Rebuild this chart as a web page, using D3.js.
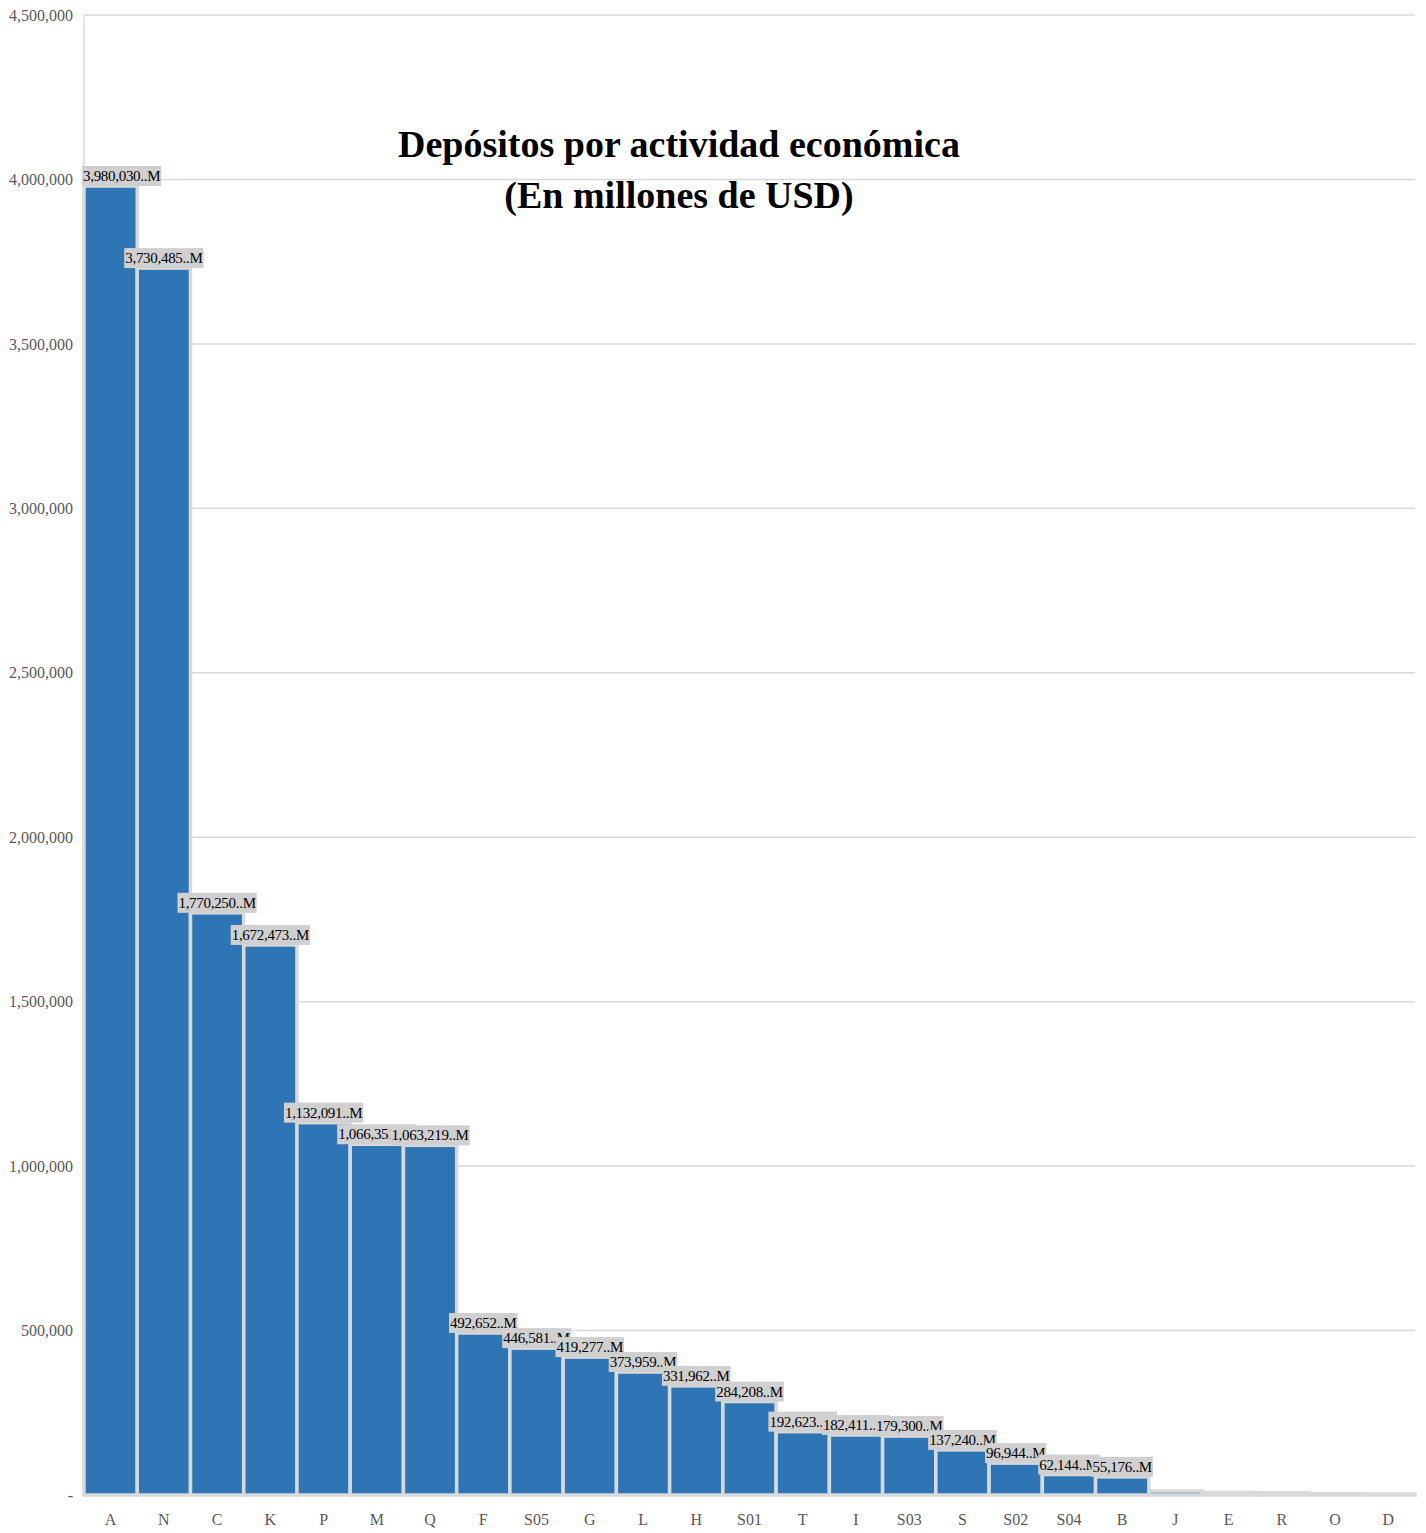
<!DOCTYPE html>
<html>
<head>
<meta charset="utf-8">
<script src="https://cdn.jsdelivr.net/npm/d3@7"></script>
<style>
  body { margin: 0; background: #fff; }
  text { font-family: "Liberation Serif", "DejaVu Serif", serif; }
</style>
</head>
<body>
<div id="chart"></div>
<script>
// sectors, in the order shown
var categories = ['A', 'N', 'C', 'K', 'P', 'M', 'Q', 'F', 'S05', 'G', 'L', 'H', 'S01',
  'T', 'I', 'S03', 'S', 'S02', 'S04', 'B', 'J', 'E', 'R', 'O', 'D']
// deposits, millions USD (last five estimated, no label in the picture)
var values = [3980030, 3730485, 1770250, 1672473, 1132091, 1066351, 1063219, 492652,
  446581, 419277, 373959, 331962, 284208, 192623, 182411, 179300, 137240, 96944,
  62144, 55176, 12000, 8000, 7000, 4000, 3000]
var labelled = 20   // only the first bars carry a data label
var yTicks = [0, 500000, 1000000, 1500000, 2000000, 2500000, 3000000, 3500000, 4000000, 4500000]
var titleLines = ['Depósitos por actividad económica', '(En millones de USD)']

var data = categories.map((c, i) => ({ name: c, num: values[i] }))

var W = 1426, H = 1533
var margin = {top: 15, right: 11, bottom: 38, left: 84}

var svg = d3.select('#chart').append('svg')
    .attr('width', W)
    .attr('height', H)

var xScale = d3.scaleBand()
    .domain(categories)
    .range([margin.left, W - margin.right])
    .padding(0)

var yScale = d3.scaleLinear()
    .domain([0, 4500000])
    .range([H - margin.bottom, margin.top])

// gridlines
svg.append('g')
  .selectAll('line')
  .data(yTicks.slice(1))
  .enter().append('line')
    .attr('x1', margin.left)
    .attr('x2', W - margin.right)
    .attr('y1', d => yScale(d))
    .attr('y2', d => yScale(d))
    .attr('stroke', '#d9d9d9')
    .attr('stroke-width', 1.5)

// left axis line
svg.append('line')
    .attr('x1', margin.left).attr('x2', margin.left)
    .attr('y1', yScale(4500000)).attr('y2', yScale(0))
    .attr('stroke', '#d9d9d9')
    .attr('stroke-width', 1.5)

// y axis labels
var yAxis = d3.axisLeft(yScale)
    .tickValues(yTicks)
    .tickSize(0)
    .tickPadding(11)
    .tickFormat(d => d === 0 ? '-' : d3.format(',')(d))
svg.append('g')
    .attr('transform', `translate(${margin.left},0)`)
    .call(yAxis)
    .call(g => g.select('.domain').remove())
    .selectAll('text')
    .attr('fill', '#595959')
    .style('font-size', '16px')
    .style('font-family', '"Liberation Serif", serif')

// bars
svg.append('g')
  .selectAll('rect')
  .data(data)
  .enter().append('rect')
    .attr('x', d => xScale(d.name))
    .attr('y', d => yScale(d.num))
    .attr('width', xScale.bandwidth())
    .attr('height', d => yScale(0) - yScale(d.num))
    .attr('fill', '#2e75b6')
    .attr('stroke', '#d9d9d9')
    .attr('stroke-width', 3.5)

// x axis labels
var xAxis = d3.axisBottom(xScale).tickSize(0).tickPadding(19)
svg.append('g')
    .attr('transform', `translate(0,${yScale(0)})`)
    .call(xAxis)
    .call(g => g.select('.domain').remove())
    .selectAll('text')
    .attr('fill', '#595959')
    .style('font-size', '16px')
    .style('font-family', '"Liberation Serif", serif')

// data labels with grey boxes, later ones drawn over earlier ones
var labels = svg.append('g')
data.slice(0, labelled).forEach(d => {
    var g = labels.append('g')
    var t = g.append('text')
        .text(d3.format(',')(d.num) + '..M')
        .style('font-size', '15px')
        .style('letter-spacing', '-0.3px')
        .attr('fill', '#000')
    var w = t.node().getComputedTextLength() + 2
    var cx = xScale(d.name) + xScale.bandwidth() / 2
    var left = Math.max(margin.left - 2, cx - w / 2)
    var top = yScale(d.num)
    g.insert('rect', 'text')
        .attr('x', left)
        .attr('y', top - 20)
        .attr('width', w)
        .attr('height', 20)
        .attr('fill', '#d0d0d0')
    t.attr('x', left + 1).attr('y', top - 5)
})

// title
svg.append('g')
  .selectAll('text')
  .data(titleLines)
  .enter().append('text')
    .attr('x', 679)
    .attr('y', (d, i) => 157 + i * 51)
    .attr('text-anchor', 'middle')
    .style('font-size', '38px')
    .style('font-weight', 'bold')
    .attr('fill', '#000')
    .text(d => d)
</script>
</body>
</html>
